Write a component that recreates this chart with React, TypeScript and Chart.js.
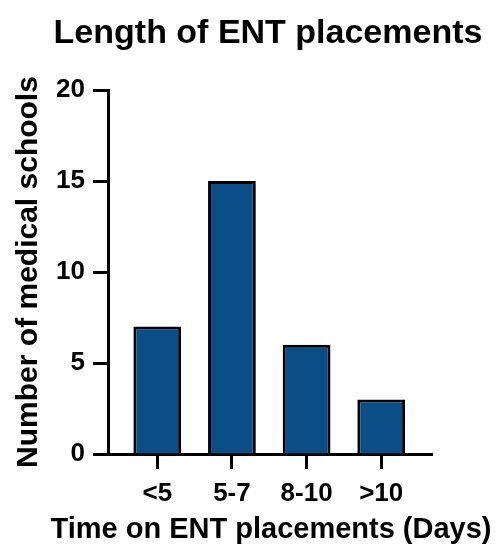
import React, { useEffect, useRef } from "react";
import { Chart, registerables } from "chart.js";

Chart.register(...registerables);

const categories: string[] = ["<5", "5-7", "8-10", ">10"];
const schoolCounts: number[] = [7, 15, 6, 3];
const yTickValues: number[] = [0, 5, 10, 15, 20];

const chartTitle = "Length of ENT placements";
const xAxisTitle = "Time on ENT placements (Days)";
const yAxisTitle = "Number of medical schools";

const FONT = "'Liberation Sans', Arial, Helvetica, sans-serif";

// Draws the chart title and axis titles at full width (Chart.js would squeeze
// them to the chart-area width).
const titlesPlugin = {
  id: "fullWidthTitles",
  afterDraw(chart: any) {
    const { ctx, chartArea } = chart;
    const cx = (chartArea.left + chartArea.right) / 2;
    const cy = (chartArea.top + chartArea.bottom) / 2;
    ctx.save();
    ctx.fillStyle = "#000";
    ctx.textAlign = "center";
    ctx.textBaseline = "alphabetic";

    ctx.font = `bold 34px ${FONT}`;
    ctx.fillText(chartTitle, cx - 2, chartArea.top - 47);

    ctx.font = `bold 29px ${FONT}`;
    ctx.fillText(xAxisTitle, cx + 1, chartArea.bottom + 84);

    ctx.translate(chartArea.left - 71, cy);
    ctx.rotate(-Math.PI / 2);
    ctx.font = `bold 30px ${FONT}`;
    ctx.fillText(yAxisTitle, 0, 0);
    ctx.restore();
  },
};

export default function App() {
  const canvasRef = useRef<HTMLCanvasElement | null>(null);

  useEffect(() => {
    const canvas = canvasRef.current;
    if (!canvas) return;
    const chart = new Chart(canvas, {
      type: "bar",
      data: {
        datasets: [
          {
            label: "Medical schools",
            data: schoolCounts.map((v, i) => ({ x: i, y: v })),
            backgroundColor: "#0b4d86",
            borderColor: "#000000",
            borderWidth: 3,
            borderSkipped: "start",
            barPercentage: 0.8,
            categoryPercentage: 0.8,
          },
        ],
      },
      options: {
        animation: false,
        responsive: true,
        maintainAspectRatio: false,
        layout: { padding: { left: 0, right: 67, top: 90, bottom: 0 } },
        plugins: {
          legend: { display: false },
          tooltip: { enabled: false },
          title: { display: false },
        },
        scales: {
          x: {
            type: "linear",
            offset: false,
            min: -0.66,
            max: 3.68,
            afterBuildTicks: (scale: any) => {
              scale.ticks = categories.map((_, i) => ({ value: i }));
            },
            afterFit: (scale: any) => {
              scale.height = 93;
            },
            ticks: {
              autoSkip: false,
              maxRotation: 0,
              color: "#000",
              padding: 9,
              font: { family: FONT, size: 26, weight: "bold" },
              callback: (value: any) => categories[Number(value)] ?? "",
            },
            grid: {
              display: true,
              offset: false,
              drawOnChartArea: false,
              drawTicks: true,
              tickLength: 15,
              tickWidth: 3,
              tickColor: "#000",
              color: "#000",
            },
            border: { display: true, color: "#000", width: 3 },
            title: { display: false },
          },
          y: {
            type: "linear",
            min: 0,
            max: 20,
            afterBuildTicks: (scale: any) => {
              scale.ticks = yTickValues.map((v) => ({ value: v }));
            },
            afterFit: (scale: any) => {
              scale.width = 108;
            },
            ticks: {
              color: "#000",
              padding: 8,
              font: { family: FONT, size: 26, weight: "bold" },
            },
            grid: {
              display: true,
              drawOnChartArea: false,
              drawTicks: true,
              tickLength: 15,
              tickWidth: 3,
              tickColor: "#000",
              color: "#000",
            },
            border: { display: true, color: "#000", width: 3 },
            title: { display: false },
          },
        },
      },
      plugins: [titlesPlugin],
    } as any);
    return () => chart.destroy();
  }, []);

  return (
    <div
      style={{
        position: "absolute",
        left: 0,
        top: 0,
        width: 499,
        height: 547,
        background: "#fff",
      }}
    >
      <canvas ref={canvasRef} />
    </div>
  );
}
